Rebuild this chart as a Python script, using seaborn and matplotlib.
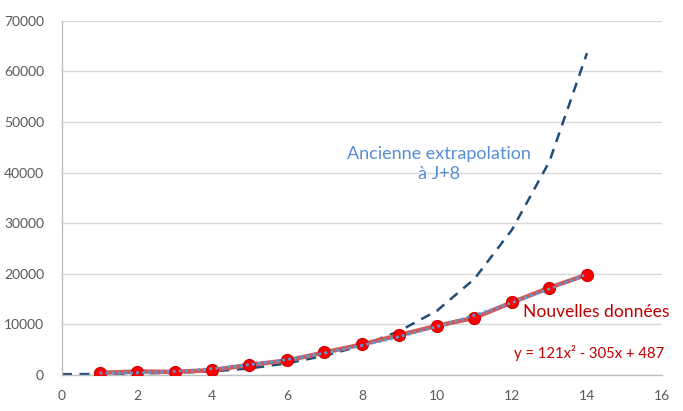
import numpy as np
import pandas as pd
import matplotlib
matplotlib.use("Agg")
import matplotlib.pyplot as plt
import seaborn as sns

# Data
days = [1, 2, 3, 4, 5, 6, 7, 8, 9, 10, 11, 12, 13, 14]
cases = [420, 690, 620, 950, 2000, 2870, 4450, 6040, 7880, 9730, 11300, 14350, 17250, 19830]

old_days = [0, 1, 2, 3, 4, 5, 6, 7, 8, 9, 10, 11, 12, 13, 14]
old_extrap = [150, 200, 300, 450, 700, 1300, 2300, 3800, 5800, 8700, 12700, 19000, 28700, 42200, 63600]

x_ticks = [0, 2, 4, 6, 8, 10, 12, 14, 16]
y_ticks = [0, 10000, 20000, 30000, 40000, 50000, 60000, 70000]

label_old = "Ancienne extrapolation\nà J+8"
label_new = "Nouvelles données"
label_eq = "y = 121x² - 305x + 487"

sns.set_theme(style="white")
plt.rcParams['font.family'] = ['Lato', 'DejaVu Sans']

df_new = pd.DataFrame({"x": days, "y": cases})
df_old = pd.DataFrame({"x": old_days, "y": old_extrap})

fig = plt.figure(figsize=(6.83, 4.11), dpi=100)
ax = fig.add_axes([0.0908, 0.0876, 0.8784, 0.8620])

# old extrapolation dashed
sns.lineplot(data=df_old, x="x", y="y", ax=ax, color="#1F4E79", linewidth=1.8,
             linestyle=(0, (4, 3)), zorder=2)
# new data
sns.lineplot(data=df_new, x="x", y="y", ax=ax, color="#D05A5A", linewidth=3.2,
             marker="o", markersize=8.5, markerfacecolor="#FF0000",
             markeredgecolor="#D00000", markeredgewidth=1.0, zorder=3)
# polynomial trendline
sns.regplot(data=df_new, x="x", y="y", order=2, ci=None, scatter=False, ax=ax,
            line_kws=dict(color="#5B9BD5", linewidth=2.0, linestyle=(0, (1, 1.2)), zorder=4))

ax.set_xlim(0, 16)
ax.set_ylim(0, 70000)
ax.set_xticks(x_ticks)
ax.set_yticks(y_ticks)
ax.set_xticklabels([str(t) for t in x_ticks])
ax.set_yticklabels([str(t) for t in y_ticks])
ax.set_xlabel("")
ax.set_ylabel("")
ax.tick_params(axis="both", length=0, labelsize=10, labelcolor="#595959")
ax.tick_params(axis="y", pad=13)
ax.tick_params(axis="x", pad=11)
ax.yaxis.grid(True, color="#D9D9D9", linewidth=1.0)
ax.xaxis.grid(False)
ax.set_axisbelow(True)
for side in ["top", "right"]:
    ax.spines[side].set_visible(False)
for side in ["left", "bottom"]:
    ax.spines[side].set_color("#BFBFBF")
    ax.spines[side].set_linewidth(1.0)

ax.text(10.05, 41680, label_old, color="#558ED5", fontsize=13, ha="center",
        va="center", multialignment="center", linespacing=1.3)
ax.text(14.26, 12500, label_new, color="#C00000", fontsize=12.6, ha="center", va="center")
ax.text(14.05, 4440, label_eq, color="#C00000", fontsize=10.7, ha="center", va="center")

fig.savefig("out.png", dpi=100)
